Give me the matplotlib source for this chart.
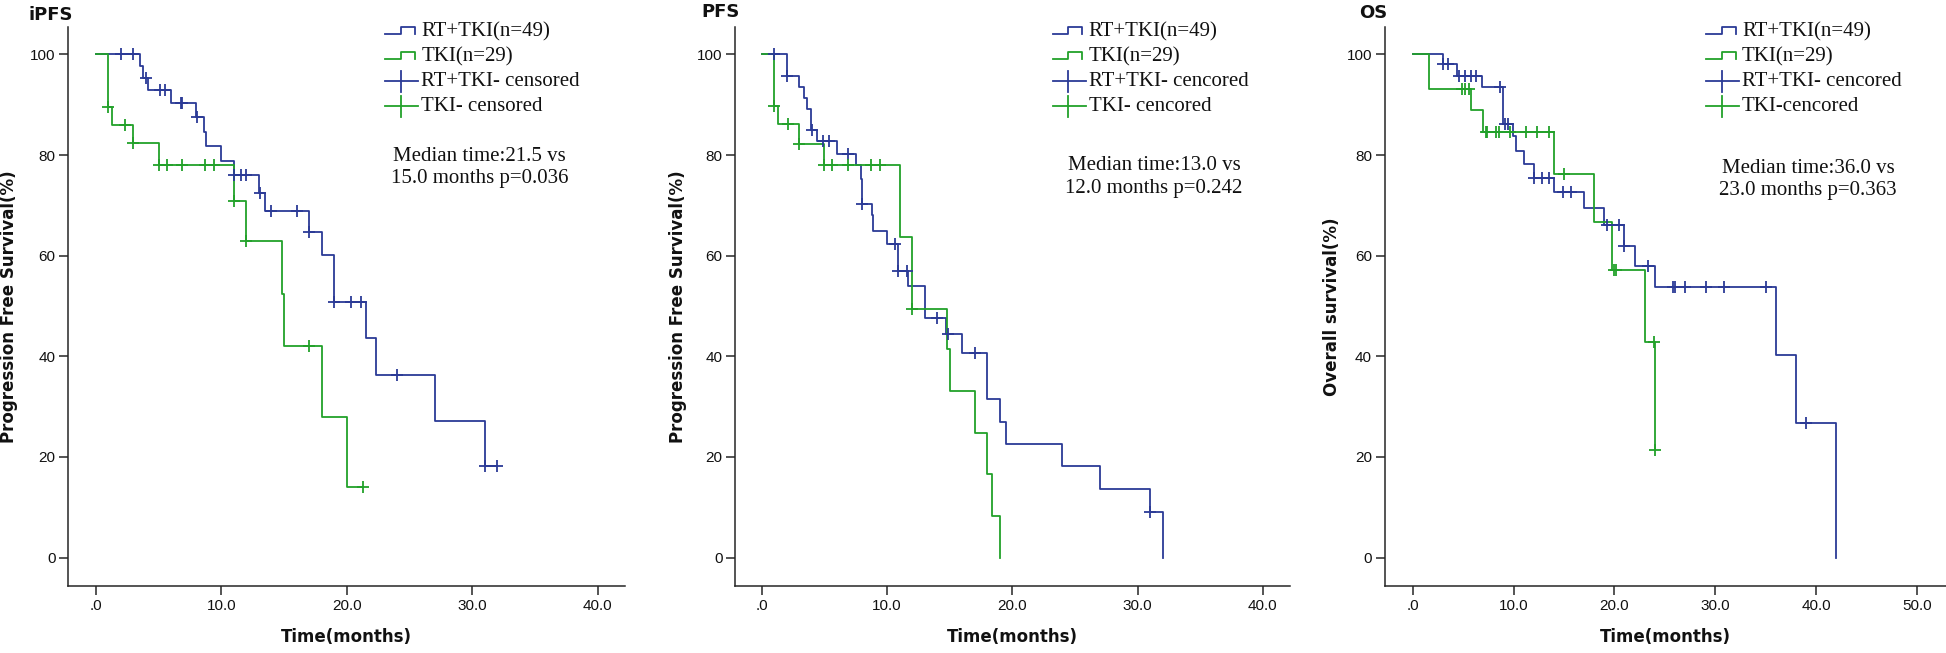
import numpy as np
import matplotlib
matplotlib.use("Agg")
import matplotlib.pyplot as plt
from matplotlib.lines import Line2D

# ---------------- data ----------------
# iPFS
ipfs_rt_time = [0, 3.5, 3.8, 4.2, 6.0, 8.0, 8.6, 8.8, 10.0, 11.0, 13.0, 13.5, 17.0, 18.0, 19.0, 21.5, 22.3, 27.0, 31.0, 32.0]
ipfs_rt_surv = [100, 97.7, 95.4, 93.0, 90.3, 87.6, 84.6, 81.8, 78.8, 76.0, 72.5, 68.8, 64.8, 60.1, 50.8, 43.6, 36.3, 27.2, 18.1, 18.1]
ipfs_rt_cens = [2.0, 3.0, 4.0, 5.1, 5.5, 6.8, 6.9, 8.1, 11.0, 11.6, 12.0, 13.1, 14.0, 16.0, 17.0, 19.0, 20.3, 21.1, 24.0, 31.05, 32.0]
ipfs_tki_time = [0, 1.0, 1.3, 3.0, 5.0, 11.0, 12.0, 14.8, 15.0, 18.0, 20.0, 21.3]
ipfs_tki_surv = [100, 89.5, 86.0, 82.4, 78.0, 70.8, 63.0, 52.4, 42.0, 28.0, 14.0, 14.0]
ipfs_tki_cens = [1.0, 2.3, 3.0, 5.0, 5.7, 6.9, 8.7, 9.4, 11.0, 12.0, 17.0, 21.3]

# PFS
pfs_rt_time = [0, 2.0, 3.0, 3.4, 3.6, 3.9, 4.4, 6.0, 7.5, 7.9, 8.0, 8.8, 8.9, 10.0, 10.9, 11.7, 13.0, 14.7, 16.0, 18.0, 19.0, 19.5, 24.0, 27.0, 31.0, 32.0]
pfs_rt_surv = [100, 95.8, 93.6, 91.4, 89.2, 84.9, 82.8, 80.3, 78.0, 75.2, 70.3, 68.0, 65.0, 62.4, 57.0, 54.0, 47.6, 44.4, 40.7, 31.6, 27.0, 22.6, 18.1, 13.6, 9.0, 0]
pfs_rt_cens = [1.0, 2.0, 4.0, 4.9, 5.4, 6.9, 8.0, 10.6, 10.9, 11.6, 14.0, 14.9, 17.0, 31.0]
pfs_tki_time = [0, 1.0, 1.3, 3.0, 5.0, 11.0, 12.0, 14.8, 15.0, 17.0, 18.0, 18.4, 19.0]
pfs_tki_surv = [100, 89.7, 86.1, 82.2, 78.0, 63.7, 49.5, 41.4, 33.2, 24.8, 16.6, 8.2, 0]
pfs_tki_cens = [1.0, 2.1, 3.0, 5.0, 5.6, 6.9, 8.7, 9.4, 12.0]

# OS
os_rt_time = [0, 3.0, 4.4, 6.9, 9.0, 9.9, 10.2, 11.0, 12.0, 14.0, 17.0, 19.0, 21.0, 22.0, 24.0, 36.0, 38.0, 42.0]
os_rt_surv = [100, 98.1, 95.8, 93.5, 86.2, 83.8, 80.8, 78.2, 75.5, 72.7, 69.5, 66.1, 62.0, 58.0, 53.7, 40.3, 26.8, 0]
os_rt_cens = [3.0, 3.5, 4.6, 5.2, 5.8, 6.3, 8.7, 9.2, 9.5, 12.0, 12.8, 13.5, 14.9, 15.7, 19.3, 20.5, 21.0, 23.3,
              25.8, 26.0, 27.0, 29.1, 30.9, 35.0, 39.0]
os_tki_time = [0, 1.6, 5.8, 7.0, 14.0, 18.0, 19.8, 23.0, 24.0]
os_tki_surv = [100, 93.1, 89.0, 84.6, 76.2, 66.6, 57.1, 42.9, 21.4]
os_tki_cens = [4.9, 5.2, 5.6, 7.3, 7.4, 8.3, 8.6, 9.6, 11.2, 12.3, 13.5, 15.0, 20.0, 20.2, 23.95, 24.0]

titles = ["iPFS", "PFS", "OS"]
ylabels = ["Progression Free Survival(%)", "Progression Free Survival(%)", "Overall survival(%)"]
legend_labels = [
    ["RT+TKI(n=49)", "TKI(n=29)", "RT+TKI- censored", "TKI- censored"],
    ["RT+TKI(n=49)", "TKI(n=29)", "RT+TKI- cencored", "TKI- cencored"],
    ["RT+TKI(n=49)", "TKI(n=29)", "RT+TKI- cencored", "TKI-cencored"],
]
median_texts = [
    ["Median time:21.5 vs", "15.0 months p=0.036"],
    ["Median time:13.0 vs", "12.0 months p=0.242"],
    ["Median time:36.0 vs", "23.0 months p=0.363"],
]
xticks_40 = [0, 10, 20, 30, 40]
xticklabels_40 = [".0", "10.0", "20.0", "30.0", "40.0"]
xticks_50 = [0, 10, 20, 30, 40, 50]
xticklabels_50 = [".0", "10.0", "20.0", "30.0", "40.0", "50.0"]
yticks = [0, 20, 40, 60, 80, 100]
yticklabels = ["0", "20", "40", "60", "80", "100"]

# ---------------- style / layout ----------------
W, H = 1946, 653
BLUE = "#2b3a96"
GREEN = "#22a12a"
AXC = "#262626"
SERIF = ["Liberation Serif", "DejaVu Serif"]
SANS = ["Liberation Sans", "DejaVu Sans"]
BOLD = ["DejaVu Sans"]

fig = plt.figure(figsize=(W / 100, H / 100), dpi=100)

AX_TOP, AX_BOT = 27.3, 586.0
layout = [
    dict(left=67.9, right=625.4, xlim=(-2.22, 42.2), ticks=xticks_40, labels=xticklabels_40,
         ylab_dx=-58.5, title_dx=-17, title_y=15, leg_dx=317.5, med_dx=411.6, med_dy=(129.4, 151.0)),
    dict(left=734.9, right=1289.8, xlim=(-2.15, 42.15), ticks=xticks_40, labels=xticklabels_40,
         ylab_dx=-57.2, title_dx=-14.5, title_y=12, leg_dx=317.8, med_dx=419, med_dy=(137.7, 161.0)),
    dict(left=1384.5, right=1946.0, xlim=(-2.8, 52.9), ticks=xticks_50, labels=xticklabels_50,
         ylab_dx=-52.8, title_dx=-11.5, title_y=12.5, leg_dx=321.5, med_dx=423.8, med_dy=(141.0, 162.7)),
]

series = [
    (ipfs_rt_time, ipfs_rt_surv, ipfs_rt_cens, ipfs_tki_time, ipfs_tki_surv, ipfs_tki_cens),
    (pfs_rt_time, pfs_rt_surv, pfs_rt_cens, pfs_tki_time, pfs_tki_surv, pfs_tki_cens),
    (os_rt_time, os_rt_surv, os_rt_cens, os_tki_time, os_tki_surv, os_tki_cens),
]


def step_value(times, surv, t):
    idx = np.searchsorted(np.asarray(times), t, side="right") - 1
    return np.asarray(surv)[idx]


for i in range(3):
    L = layout[i]
    axw = L["right"] - L["left"]
    axh = AX_BOT - AX_TOP
    ax = fig.add_axes([L["left"] / W, 1 - AX_BOT / H, axw / W, axh / H])

    def P(dx, dy, axw=axw, axh=axh):
        return dx / axw, 1 - dy / axh

    rt_t, rt_s, rt_c, tk_t, tk_s, tk_c = series[i]
    ax.step(rt_t, rt_s, where="post", color=BLUE, lw=1.3, zorder=3)
    ax.step(tk_t, tk_s, where="post", color=GREEN, lw=1.3, zorder=4)
    ax.plot(rt_c, step_value(rt_t, rt_s, rt_c), ls="none", marker="+", ms=9, mew=1.3, color=BLUE, zorder=5)
    ax.plot(tk_c, step_value(tk_t, tk_s, tk_c), ls="none", marker="+", ms=9, mew=1.3, color=GREEN, zorder=6)

    ax.set_xlim(*L["xlim"])
    ax.set_ylim(-5.66, 105.4)
    for s in ("top", "right"):
        ax.spines[s].set_visible(False)
    for s in ("left", "bottom"):
        ax.spines[s].set_color(AXC)
        ax.spines[s].set_linewidth(1.1)
    ax.set_xticks(L["ticks"])
    ax.set_xticklabels(L["labels"], fontfamily=SANS, fontsize=11)
    ax.set_yticks(yticks)
    ax.set_yticklabels(yticklabels, fontfamily=SANS, fontsize=11)
    ax.tick_params(direction="out", length=6.5, width=1.1, color=AXC, pad=2.5, labelcolor="#111111")

    # axis labels / title
    ax.text(0.5, P(0, 637 - AX_TOP)[1], "Time(months)", transform=ax.transAxes, ha="center", va="center",
            fontfamily=BOLD, fontweight="bold", fontsize=12, color="#111111")
    ax.text(L["ylab_dx"] / axw, 0.5, ylabels[i], transform=ax.transAxes, ha="center", va="center",
            rotation=90, fontfamily=BOLD, fontweight="bold", fontsize=12, color="#111111")
    ax.text(*P(L["title_dx"], L["title_y"] - AX_TOP), titles[i], transform=ax.transAxes, ha="center",
            va="center", fontfamily=BOLD, fontweight="bold", fontsize=13, color="#111111")

    # legend drawn by hand (SPSS style)
    x0 = L["leg_dx"]
    rows = [4.4, 29.4, 53.7, 78.7]
    cols = [BLUE, GREEN, BLUE, GREEN]
    for r, (dy, c) in enumerate(zip(rows, cols)):
        if r < 2:
            xs = [x0, x0 + 15.7, x0 + 15.7, x0 + 29.5, x0 + 29.5]
            ys = [dy + 2.7, dy + 2.7, dy - 5.0, dy - 5.0, dy + 2.7]
        else:
            xs = [x0, x0 + 33]
            ys = [dy, dy]
            vx, vy = P(x0 + 15.7, dy - 10.5)
            vx2, vy2 = P(x0 + 15.7, dy + 10.5)
            ax.add_line(Line2D([vx, vx2], [vy, vy2], transform=ax.transAxes, color=c, lw=1.3, clip_on=False))
        pts = [P(a, b) for a, b in zip(xs, ys)]
        ax.add_line(Line2D([p[0] for p in pts], [p[1] for p in pts], transform=ax.transAxes,
                           color=c, lw=1.3, clip_on=False))
        ax.text(*P(x0 + 36, dy), legend_labels[i][r], transform=ax.transAxes, ha="left", va="center",
                fontfamily=SERIF, fontsize=15, color="#111111")

    for line, dy in zip(median_texts[i], L["med_dy"]):
        ax.text(*P(L["med_dx"], dy), line, transform=ax.transAxes, ha="center", va="center",
                fontfamily=SERIF, fontsize=15, color="#111111")

fig.savefig("out.png", dpi=100)
